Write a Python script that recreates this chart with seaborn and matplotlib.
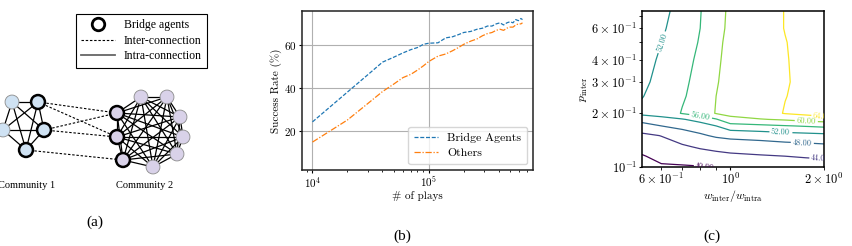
"""Figure: bridge agents network, success rate vs plays, contour of success"""
import itertools

import matplotlib
matplotlib.use("Agg")
import matplotlib.pyplot as plt
from matplotlib.lines import Line2D
import numpy as np
import pandas as pd
import seaborn as sns

# ---- (a) toy network (pixel units of the left panel) ----
comm1_x = [12, 38, 3, 44, 26]
comm1_y = [102, 102, 130, 130, 150]
comm1_bridge = [False, True, False, True, True]
comm2_x = [141, 167, 117, 180, 117, 183, 177, 123, 153]
comm2_y = [97, 97, 113, 117, 137, 137, 154, 160, 167]
comm2_bridge = [False, False, True, False, True, False, False, True, False]
inter_links = [(1, 2), (1, 4), (3, 2), (3, 4), (4, 7)]  # (community 1 node, community 2 node)

# ---- (b) success rate vs number of plays ----
plays = np.array([1, 2, 3, 4, 5, 6, 7, 8, 9, 10, 12, 14, 16, 18, 20, 23, 26, 29, 32,
                  35, 38, 41, 44, 47, 50, 53, 56, 59, 62, 64]) * 1e4
bridge_rate = [24.4, 38.3, 46.4, 52.2, 54.5, 56.5, 58.0, 59.0, 60.5, 61.0, 61.2, 63.5, 64.0,
               65.0, 66.0, 66.5, 67.5, 68.0, 69.0, 69.0, 70.0, 70.5, 69.5, 70.5, 71.0, 70.5,
               72.0, 71.5, 72.5, 72.0]
others_rate = [15.0, 25.3, 33.0, 38.5, 42.0, 45.0, 46.5, 48.5, 50.5, 52.5, 55.0, 56.0, 57.5,
               59.0, 60.5, 62.0, 63.0, 64.5, 65.5, 66.0, 67.0, 67.5, 67.0, 68.0, 68.5, 68.5,
               69.5, 70.0, 70.0, 70.5]

# ---- (c) success rate over (w_inter/w_intra, p_inter) ----
w_ratio = [0.52, 0.6, 0.7, 0.8, 0.9, 1.0, 1.25, 1.5, 1.75, 2.0]
p_inter = [0.1, 0.115, 0.13, 0.15, 0.17, 0.185, 0.2, 0.25, 0.3, 0.4, 0.5, 0.6, 0.75]
success = [
    [37.0, 39.5, 39.6, 39.8, 40.5, 41.0, 41.5, 42.0, 42.4, 42.6],
    [39.7, 41.2, 41.8, 42.3, 43.0, 43.3, 43.7, 44.0, 44.3, 44.5],
    [41.5, 42.5, 43.5, 44.5, 45.0, 45.5, 46.0, 46.5, 46.8, 47.1],
    [43.2, 44.1, 46.0, 47.4, 48.6, 49.2, 49.7, 50.3, 50.6, 50.9],
    [46.5, 48.0, 49.2, 50.2, 52.0, 54.5, 55.2, 55.8, 56.3, 56.8],
    [49.5, 50.5, 51.7, 53.5, 55.7, 59.0, 59.8, 60.5, 61.5, 62.0],
    [53.0, 54.0, 56.2, 58.0, 60.2, 61.0, 62.5, 64.2, 65.0, 66.0],
    [51.8, 54.0, 55.6, 57.5, 60.0, 61.0, 62.6, 63.9, 65.0, 66.0],
    [51.0, 53.5, 55.4, 57.0, 59.8, 61.0, 62.8, 63.7, 65.0, 66.0],
    [50.0, 52.8, 55.0, 56.6, 59.6, 60.8, 62.7, 63.8, 65.0, 66.0],
    [49.5, 51.9, 54.8, 56.2, 59.5, 60.6, 62.6, 63.9, 65.0, 66.0],
    [49.0, 51.3, 54.5, 56.0, 59.4, 60.4, 62.6, 64.1, 65.0, 66.0],
    [48.5, 50.5, 54.2, 55.8, 59.4, 60.3, 62.6, 64.1, 65.0, 66.0],
]
levels = [40, 44, 48, 52, 56, 60, 64]
label_spots = [(0.83, 0.1), (1.95, 0.112), (1.7, 0.136), (1.45, 0.156), (0.6, 0.5),
               (0.8, 0.19), (1.75, 0.181), (1.98, 0.194)]

plt.rcParams.update({
    "font.family": "serif",
    "font.serif": ["cmr10"],
    "mathtext.fontset": "cm",
    "axes.formatter.use_mathtext": True,
})
TIMES = "Liberation Serif"

fig = plt.figure(figsize=(8.53, 2.46), dpi=100)

# ---------------- (a) ----------------
ax_a = fig.add_axes([0, 0, 230 / 853, 1])
ax_a.set_xlim(0, 230)
ax_a.set_ylim(246, 0)
ax_a.axis("off")

for xs, ys in [(comm1_x, comm1_y), (comm2_x, comm2_y)]:
    for i, j in itertools.combinations(range(len(xs)), 2):
        ax_a.plot([xs[i], xs[j]], [ys[i], ys[j]], color="black", lw=0.9, zorder=1)
for i, j in inter_links:
    ax_a.plot([comm1_x[i], comm2_x[j]], [comm1_y[i], comm2_y[j]], color="black",
              lw=0.8, dashes=(2.2, 1.6), zorder=1)
for xs, ys, br, fill in [(comm1_x, comm1_y, comm1_bridge, "#cfe2f3"),
                         (comm2_x, comm2_y, comm2_bridge, "#d9d2e9")]:
    ax_a.scatter(xs, ys, s=100, color=fill,
                 edgecolors=["black" if b else "#8a8a8a" for b in br],
                 linewidths=[1.8 if b else 0.6 for b in br], zorder=3)
ax_a.text(27, 186, "Community 1", family=TIMES, fontsize=7.5, ha="center", va="center")
ax_a.text(145, 186, "Community 2", family=TIMES, fontsize=7.5, ha="center", va="center")

handles = [
    Line2D([], [], ls="none", marker="o", markersize=9, mfc="white", mec="black", mew=2),
    Line2D([], [], color="black", lw=0.8, dashes=(2.2, 1.6)),
    Line2D([], [], color="#666666", lw=1.3),
]
leg_a = ax_a.legend(handles, ["Bridge agents", "Inter-connection", "Intra-connection"],
                    loc="upper left", bbox_to_anchor=(0.33, 0.943), borderaxespad=0,
                    fancybox=False, edgecolor="black", framealpha=1, handlelength=2.9,
                    handletextpad=0.7, borderpad=0.45, labelspacing=0.3,
                    prop={"family": TIMES, "size": 8.5})
leg_a.get_frame().set_linewidth(0.8)

# ---------------- (b) ----------------
df = pd.DataFrame({
    "plays": np.concatenate([plays, plays]),
    "rate": bridge_rate + others_rate,
    "group": ["Bridge Agents"] * len(plays) + ["Others"] * len(plays),
})
ax_b = fig.add_axes([302 / 853, 1 - 170 / 246, 231 / 853, 159 / 246])
sns.lineplot(data=df, x="plays", y="rate", hue="group", style="group",
             palette=["#1f77b4", "#ff7f0e"], dashes=[(3.2, 1.4), (5, 1.4, 1, 1.4)],
             lw=0.9, ax=ax_b)
ax_b.set_xscale("log")
ax_b.set_ylim(2, 76)
ax_b.set_yticks([20, 40, 60])
ax_b.grid(True, which="major", color="#b0b0b0", lw=0.8)
ax_b.set_xlabel("# of plays", fontsize=8, labelpad=1)
ax_b.set_ylabel("Success Rate (%)", fontsize=8, labelpad=2)
ax_b.tick_params(labelsize=8, length=2, width=0.8, pad=1.5)
ax_b.tick_params(which="minor", length=1.5, width=0.6)
for s in ax_b.spines.values():
    s.set_color("#222222")
    s.set_linewidth(1.1)
h, l = ax_b.get_legend_handles_labels()
ax_b.legend(h, l, loc="lower right", fontsize=8.5, handlelength=2.0, borderpad=0.5,
            labelspacing=0.4)

# ---------------- (c) ----------------
ax_c = fig.add_axes([642 / 853, 1 - 167 / 246, 182 / 853, 156 / 246])
cs = ax_c.contour(w_ratio, p_inter, np.array(success), levels=levels, cmap="viridis",
                  linewidths=0.9)
ax_c.set_xscale("log")
ax_c.set_yscale("log")
ax_c.set_xlim(0.52, 2.0)
ax_c.set_ylim(0.1, 0.75)
ax_c.clabel(cs, fmt="%.2f", fontsize=6, manual=label_spots, inline_spacing=2)
ax_c.set_xlabel(r"$w_{\rm inter}/w_{\rm intra}$", fontsize=8.5, labelpad=1)
ax_c.set_ylabel(r"$p_{\rm inter}$", fontsize=8.5, labelpad=1)
ax_c.tick_params(which="both", labelsize=9, length=2, pad=1.5)
for s in ax_c.spines.values():
    s.set_color("black")
    s.set_linewidth(1.1)

fig.text(95 / 853, 1 - 222 / 246, "(a)", family=TIMES, fontsize=11, ha="center", va="center")
fig.text(402 / 853, 1 - 236 / 246, "(b)", family=TIMES, fontsize=11, ha="center", va="center")
fig.text(712 / 853, 1 - 236 / 246, "(c)", family=TIMES, fontsize=11, ha="center", va="center")

fig.savefig("out.png", dpi=100)
